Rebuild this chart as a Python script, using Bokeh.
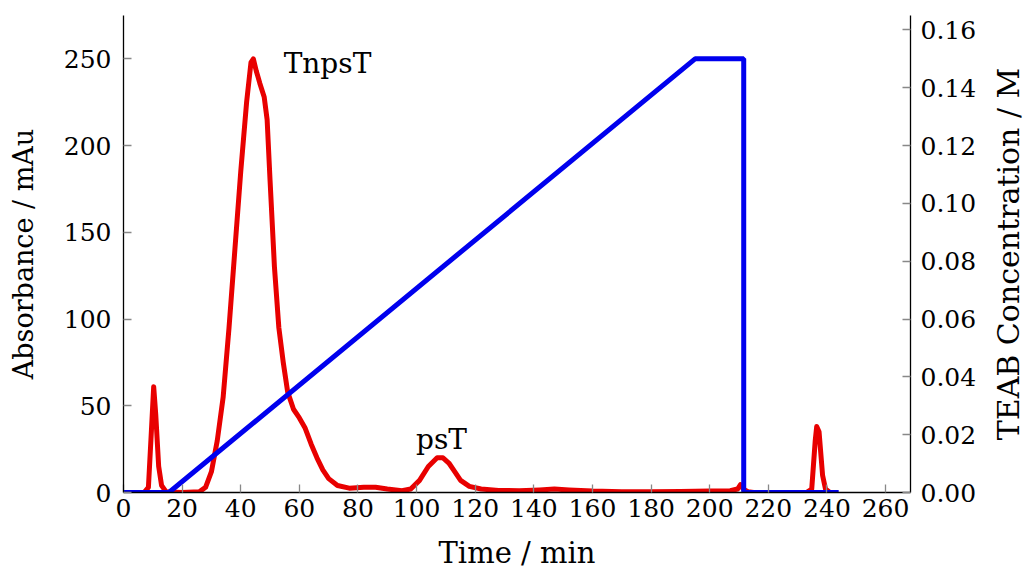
from bokeh.plotting import figure
from bokeh.layouts import row
from bokeh.models import Range1d, LinearAxis, FixedTicker, PrintfTickFormatter, ColumnDataSource
from bokeh.core.properties import value
from bokeh.embed import file_html
from bokeh.resources import INLINE

# Absorbance trace (red)
abs_time = [0, 7, 8.5, 9.5, 10.3, 11, 12, 13, 14.5, 20, 26, 28, 30, 32, 34, 36, 38, 40, 42, 43.5,
            44.3, 45.3, 46.5, 48, 49, 50, 51.5, 53, 54.5, 56, 58, 60, 62, 64, 66, 68, 70, 73, 77,
            82, 86, 90, 95, 98, 101, 104, 107, 109, 111, 113, 115, 118, 122, 128, 135, 142, 147,
            152, 160, 170, 180, 190, 200, 207, 209.5, 210.5, 211.5, 213, 215, 233, 234.8, 236,
            236.5, 237.3, 238.5, 239.5, 241]
absorbance = [0, 0, 3, 35, 61, 45, 15, 4, 0.5, 0, 0.5, 3, 12, 30, 55, 95, 140, 185, 225, 248,
              250, 243, 236, 228, 215, 180, 130, 95, 75, 58, 48, 43, 37, 28, 20, 13, 8, 4, 2.5,
              3, 3, 2, 1, 2, 7, 15, 20, 20, 17, 12, 7, 3.5, 2, 1.2, 1, 1.5, 2,
              1.5, 0.8, 0.5, 0.5, 0.6, 0.8, 1, 2, 4.5, 2, 0.5, 0, 0, 2, 30,
              38, 35, 10, 2, 0]

# TEAB gradient (blue)
teab_time = [0, 15.5, 195, 211.6, 211.6, 244]
teab_conc = [0, 0, 0.15, 0.15, 0, 0]

# Peak labels
peak_labels = ["TnpsT", "psT"]
peak_x = [69.6, 108.5]
peak_y = [247.5, 30.5]

x_ticks = list(range(0, 261, 20))
y_ticks = [0, 50, 100, 150, 200, 250]
y2_ticks = [0, 0.02, 0.04, 0.06, 0.08, 0.10, 0.12, 0.14, 0.16]

FONT = "DejaVu Serif"
TICK_SIZE = "25px"
TITLE_SIZE = "27px"

p = figure(width=983, height=583, output_backend="svg", toolbar_location=None,
           x_range=Range1d(0, 268.5), y_range=Range1d(0, 275),
           min_border_left=123, min_border_right=73, min_border_top=15, min_border_bottom=84)
p.extra_y_ranges = {"teab": Range1d(0, 0.165)}
p.outline_line_color = None
p.xgrid.visible = False
p.ygrid.visible = False

p.line(abs_time, absorbance, line_color="#e80000", line_width=5, line_join="round")
p.line(teab_time, teab_conc, line_color="#0000ee", line_width=5, y_range_name="teab")

src = ColumnDataSource(dict(x=peak_x, y=peak_y, t=peak_labels))
p.text("x", "y", text="t", source=src, text_font=value(FONT), text_font_size="28px",
       text_align="center", text_baseline="middle", text_color="black")

right = LinearAxis(y_range_name="teab")
p.add_layout(right, "right")

p.xaxis.axis_label = "Time / min"
p.yaxis[0].axis_label = "Absorbance / mAu"
p.xaxis.ticker = FixedTicker(ticks=x_ticks)
p.yaxis[0].ticker = FixedTicker(ticks=y_ticks)
right.ticker = FixedTicker(ticks=y2_ticks)
right.formatter = PrintfTickFormatter(format="%.2f")

for ax in p.xaxis + p.yaxis:
    ax.axis_label_text_font = FONT
    ax.axis_label_text_font_size = TITLE_SIZE
    ax.axis_label_text_font_style = "normal"
    ax.axis_label_text_color = "black"
    ax.major_label_text_font = FONT
    ax.major_label_text_font_size = TICK_SIZE
    ax.major_label_text_color = "black"
    ax.axis_line_color = "black"
    ax.axis_line_width = 1.3
    ax.major_tick_in = 8
    ax.major_tick_out = 0
    ax.major_tick_line_color = "#888888"
    ax.major_tick_line_width = 1.3
    ax.minor_tick_line_color = None

p.xaxis.axis_label_text_font_size = "29px"
p.yaxis[0].major_label_standoff = 12
p.yaxis[0].axis_label_standoff = 22
right.major_label_standoff = 10
p.xaxis.major_label_standoff = 6
p.xaxis.axis_label_standoff = 16

# Narrow companion figure carrying the right-hand axis title (reads bottom-to-top)
p2 = figure(width=44, height=583, output_backend="svg", toolbar_location=None,
            x_range=Range1d(0, 1), y_range=Range1d(0, 0.165),
            min_border_left=42, min_border_right=0, min_border_top=8, min_border_bottom=91)
p2.outline_line_color = None
p2.xgrid.visible = False
p2.ygrid.visible = False
p2.xaxis.visible = False
ya = p2.yaxis[0]
ya.ticker = FixedTicker(ticks=[])
ya.axis_label = "TEAB Concentration / M"
ya.axis_label_text_font = FONT
ya.axis_label_text_font_size = "30px"
ya.axis_label_text_font_style = "normal"
ya.axis_label_text_color = "black"
ya.axis_label_standoff = 0
ya.major_label_standoff = 0
ya.major_tick_in = 0
ya.major_tick_out = 0
ya.minor_tick_in = 0
ya.minor_tick_out = 0
ya.axis_line_color = None
ya.major_tick_line_color = None
ya.minor_tick_line_color = None

layout = row(p, p2, spacing=0)
open("out.html", "w").write(file_html(layout, INLINE))
